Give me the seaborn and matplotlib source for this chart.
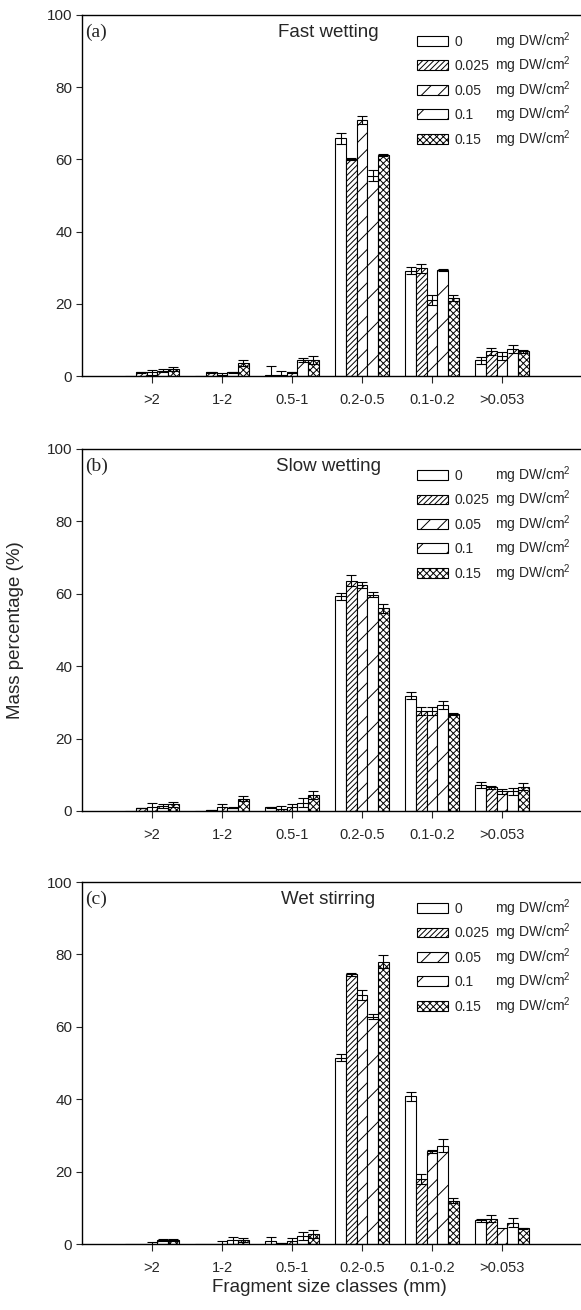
import matplotlib
matplotlib.use("Agg")
import matplotlib.pyplot as plt
import matplotlib.patches as mpatches
import matplotlib.transforms as mtransforms
import pandas as pd
import seaborn as sns

SIZES = [">2", "1-2", "0.5-1", "0.2-0.5", "0.1-0.2", ">0.053"]
DOSES = ["0", "0.025", "0.05", "0.1", "0.15"]
HATCHES = ["", "//////", "//", "/", "xxxxx"]

# one row per size class, one column per dose
FAST_MEAN = [[0.0, 1.0, 1.0, 1.5, 1.9],
             [0.0, 1.0, 0.3, 1.0, 3.5],
             [0.3, 0.3, 1.0, 4.4, 4.4],
             [65.8, 60.0, 71.0, 55.5, 61.3],
             [29.2, 29.8, 21.0, 29.3, 21.6],
             [4.3, 6.8, 5.5, 7.6, 6.8]]
FAST_ERR = [[0.0, 0.2, 0.7, 0.5, 0.6],
            [0.0, 0.2, 0.6, 0.2, 0.8],
            [2.6, 1.2, 0.2, 0.6, 1.1],
            [1.4, 0.3, 1.1, 1.6, 0.3],
            [0.9, 1.2, 1.4, 0.3, 0.8],
            [1.0, 1.0, 1.1, 1.1, 0.3]]

SLOW_MEAN = [[0.0, 0.8, 1.0, 1.4, 1.8],
             [0.0, 0.2, 1.0, 0.9, 3.4],
             [1.0, 0.5, 1.0, 2.3, 4.3],
             [59.3, 63.6, 62.5, 59.8, 56.0],
             [31.9, 27.6, 27.6, 29.3, 26.7],
             [7.2, 6.5, 5.4, 5.4, 6.7]]
SLOW_ERR = [[0.0, 0.1, 1.2, 0.5, 0.8],
            [0.0, 0.1, 1.0, 0.2, 0.7],
            [0.2, 1.0, 0.9, 1.2, 1.1],
            [1.0, 1.5, 0.8, 0.8, 1.2],
            [1.0, 1.1, 1.2, 1.1, 0.3],
            [0.8, 0.3, 0.8, 1.0, 1.0]]

STIR_MEAN = [[0.0, 0.0, 0.1, 1.1, 1.1],
             [0.0, 0.0, 0.1, 1.0, 1.1],
             [0.7, 0.2, 0.8, 2.2, 2.8],
             [51.5, 74.5, 68.8, 62.8, 78.0],
             [40.8, 18.0, 25.6, 27.1, 12.0],
             [6.6, 7.0, 4.4, 5.9, 4.3]]
STIR_ERR = [[0.0, 0.0, 0.5, 0.4, 0.3],
            [0.0, 0.0, 0.6, 0.9, 0.5],
            [1.3, 0.1, 0.8, 1.0, 1.1],
            [0.9, 0.4, 1.4, 0.6, 1.7],
            [1.3, 1.4, 0.4, 1.8, 0.8],
            [0.4, 1.0, 0.0, 1.2, 0.2]]

PANELS = [("(a)", "Fast wetting", FAST_MEAN, FAST_ERR),
          ("(b)", "Slow wetting", SLOW_MEAN, SLOW_ERR),
          ("(c)", "Wet stirring", STIR_MEAN, STIR_ERR)]

sns.set_style("ticks")
plt.rcParams.update({
    "font.family": ["Liberation Sans", "DejaVu Sans"],
    "mathtext.fontset": "custom",
    "mathtext.rm": "Liberation Sans",
    "mathtext.it": "Liberation Sans",
    "hatch.linewidth": 0.7,
    "axes.linewidth": 1.0,
    "axes.edgecolor": "black",
})

W, H = 581, 1310
fig = plt.figure(figsize=(W / 100, H / 100), dpi=100)
fig.patch.set_facecolor("white")

# panel box tops / bottoms in pixels
BOXES = [(15, 376), (449, 811), (882, 1244)]
LEFT = 82


def draw_panel(ax, tag, title, means, errs):
    df = pd.DataFrame([(s, d, means[i][j]) for i, s in enumerate(SIZES)
                       for j, d in enumerate(DOSES)],
                      columns=["size", "dose", "value"])
    sns.barplot(data=df, x="size", y="value", hue="dose", order=SIZES,
                hue_order=DOSES, palette=["white"] * 5, edgecolor="black",
                linewidth=0.8, width=0.76, errorbar=None, legend=False,
                saturation=1, ax=ax)
    bars = list(ax.containers)
    for j, cont in enumerate(bars):
        xs, ys, es = [], [], []
        for i, b in enumerate(cont):
            b.set_hatch(HATCHES[j])
            if errs[i][j] > 0:
                xs.append(b.get_x() + b.get_width() / 2)
                ys.append(b.get_height())
                es.append(errs[i][j])
        ax.errorbar(xs, ys, yerr=es, fmt="none", ecolor="black",
                    elinewidth=0.8, capsize=3.5, capthick=0.8, zorder=5)

    ax.set_xlim(-1, 6.13)
    ax.set_ylim(0, 100)
    ax.set_yticks([0, 20, 40, 60, 80, 100])
    ax.set_xlabel("")
    ax.set_ylabel("")
    ax.spines["right"].set_visible(False)
    ax.spines["top"].set_visible(True)
    ax.tick_params(axis="y", direction="out", length=4, width=0.8,
                   labelsize=11, pad=3)
    ax.tick_params(axis="x", direction="out", length=5, width=0.8,
                   labelsize=10.5, pad=7)

    ax.text(0.006, 0.94, tag, transform=ax.transAxes, ha="left",
            va="baseline", fontsize=14, family="Liberation Serif")
    ax.text(0.493, 0.938, title, transform=ax.transAxes, ha="center",
            va="baseline", fontsize=13.5)

    handles = [mpatches.Patch(facecolor="white", edgecolor="black",
                              linewidth=0.8, hatch=h) for h in HATCHES]
    leg = ax.legend(handles, DOSES, loc="upper left",
                    bbox_to_anchor=(0.671, 0.945), frameon=False,
                    fontsize=10, handlelength=2.23, handleheight=0.72,
                    handletextpad=0.5, labelspacing=0.75,
                    borderpad=0, borderaxespad=0)
    return leg


legends = []
for (tag, title, means, errs), (top, bot) in zip(PANELS, BOXES):
    ax = fig.add_axes([LEFT / W, 1 - bot / H, (W - LEFT) / W, (bot - top) / H])
    legends.append(draw_panel(ax, tag, title, means, errs))

# unit column next to the legend numbers
fig.canvas.draw()
shift = mtransforms.ScaledTranslation(0.40, 0, fig.dpi_scale_trans)
for leg in legends:
    for t in leg.get_texts():
        fig.text(*t.get_position(), "mg DW/cm$^2$", transform=t.get_transform() + shift,
                 ha="left", va=t.get_va(), fontsize=10)

fig.text(16 / W, 1 - 630 / H, "Mass percentage (%)", rotation=90,
         ha="center", va="center", fontsize=13.5)
fig.text(329 / W, 1 - 1288 / H, "Fragment size classes (mm)",
         ha="center", va="center", fontsize=13.5)

fig.savefig("out.png", dpi=100, facecolor="white")
